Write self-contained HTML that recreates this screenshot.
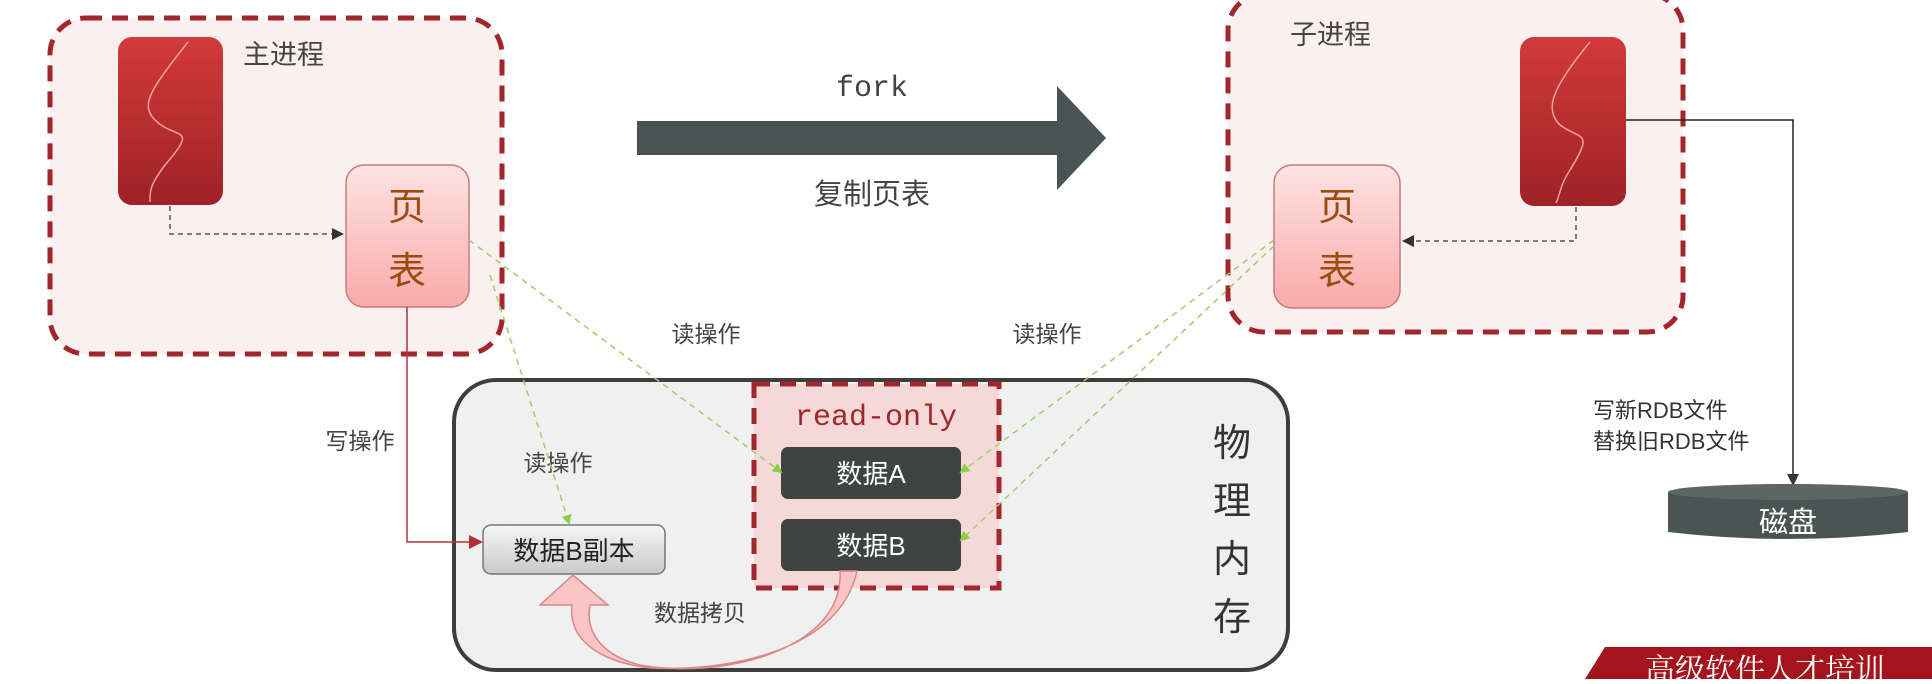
<!DOCTYPE html>
<html><head><meta charset="utf-8"><style>
html,body{margin:0;padding:0;background:#fff;}
svg text{font-family:"Liberation Sans","Noto Sans CJK SC",sans-serif;}
svg text.mono{font-family:"Liberation Mono",monospace;}
svg text.serif{font-family:"Liberation Serif","Noto Serif CJK SC",serif;}
</style></head><body>
<svg width="1932" height="679" viewBox="0 0 1932 679" xmlns="http://www.w3.org/2000/svg">
<defs>
<linearGradient id="red" x1="0" y1="0" x2="0" y2="1"><stop offset="0" stop-color="#d23a3a"/><stop offset="1" stop-color="#9e2226"/></linearGradient>
<linearGradient id="pt" x1="0" y1="0" x2="0" y2="1"><stop offset="0" stop-color="#fde3e3"/><stop offset="1" stop-color="#fbaaaa"/></linearGradient>
<linearGradient id="gr" x1="0" y1="0" x2="0" y2="1"><stop offset="0" stop-color="#f6f6f6"/><stop offset="1" stop-color="#c9c9c9"/></linearGradient>
<marker id="ag" markerWidth="10" markerHeight="10" refX="8" refY="5" orient="auto" markerUnits="userSpaceOnUse"><path d="M0,0 L10,5 L0,10z" fill="#8ccf45"/></marker>
<marker id="ak" markerWidth="12" markerHeight="12" refX="10" refY="6" orient="auto" markerUnits="userSpaceOnUse"><path d="M0,0 L12,6 L0,12z" fill="#333"/></marker>
<marker id="ar" markerWidth="14" markerHeight="14" refX="12" refY="7" orient="auto" markerUnits="userSpaceOnUse"><path d="M0,0 L14,7 L0,14z" fill="#b0333a"/></marker>
</defs>
<rect x="50" y="18" width="452" height="336" rx="36" fill="#fbf0f0" stroke="#a3262c" stroke-width="5" stroke-dasharray="16,10"/>
<rect x="118" y="37" width="105" height="168" rx="14" fill="url(#red)"/>
<path d="M188,42 C150,90 140,105 155,120 C175,140 200,125 165,165 C150,185 150,190 150,202" stroke="#f6a0a0" stroke-width="1.5" fill="none"/>
<text x="243" y="64" font-size="27" fill="#444">主进程</text>
<path d="M170,206 V234 H342" stroke="#555" stroke-width="1.5" stroke-dasharray="5,4" fill="none" marker-end="url(#ak)"/>
<rect x="346" y="165" width="123" height="142" rx="18" fill="url(#pt)" stroke="#c97a7a" stroke-width="1.5"/>
<text x="407" y="220" font-size="38" fill="#9a4d0c" text-anchor="middle">页</text>
<text x="407" y="284" font-size="38" fill="#9a4d0c" text-anchor="middle">表</text>
<text x="872" y="96" font-size="30" fill="#444" text-anchor="middle" class="mono">fork</text>
<path d="M637,121 H1057 V86 L1106,138 L1057,190 V155 H637z" fill="#4a5553"/>
<text x="872" y="204" font-size="29" fill="#444" text-anchor="middle">复制页表</text>
<rect x="1228" y="-6" width="455" height="338" rx="36" fill="#fbf0f0" stroke="#a3262c" stroke-width="5" stroke-dasharray="16,10"/>
<text x="1290" y="44" font-size="27" fill="#444">子进程</text>
<rect x="1520" y="37" width="106" height="169" rx="14" fill="url(#red)"/>
<path d="M1590,42 C1550,90 1545,110 1560,125 C1580,140 1595,130 1570,170 C1560,185 1560,195 1556,203" stroke="#f6a0a0" stroke-width="1.5" fill="none"/>
<path d="M1576,207 V241 H1404" stroke="#555" stroke-width="1.5" stroke-dasharray="5,4" fill="none" marker-end="url(#ak)"/>
<rect x="1274" y="165" width="126" height="143" rx="18" fill="url(#pt)" stroke="#c97a7a" stroke-width="1.5"/>
<text x="1337" y="220" font-size="38" fill="#9a4d0c" text-anchor="middle">页</text>
<text x="1337" y="284" font-size="38" fill="#9a4d0c" text-anchor="middle">表</text>
<path d="M1626,120 H1793 V484" stroke="#222" stroke-width="1.5" fill="none" marker-end="url(#ak)"/>
<text x="1593" y="418" font-size="22" fill="#333">写新RDB文件</text>
<text x="1593" y="449" font-size="22" fill="#333">替换旧RDB文件</text>
<path d="M1668,492 V532 Q1788,546 1908,532 V492z" fill="#4a5553"/>
<ellipse cx="1788" cy="492" rx="120" ry="8" fill="#5c6664"/>
<text x="1788" y="532" font-size="29" fill="#fff" text-anchor="middle">磁盘</text>
<rect x="454" y="380" width="834" height="290" rx="42" fill="#f0f0f0" stroke="#3d3d3d" stroke-width="4"/>
<g font-size="38" fill="#333" text-anchor="middle"><text x="1232" y="456">物</text><text x="1232" y="514">理</text><text x="1232" y="572">内</text><text x="1232" y="630">存</text></g>
<rect x="754" y="384" width="245" height="204" fill="#f5d9d9" stroke="#a3262c" stroke-width="5" stroke-dasharray="16,10"/>
<text x="876" y="425" font-size="30" fill="#a3262c" text-anchor="middle" class="mono">read-only</text>
<rect x="781" y="447" width="180" height="52" rx="7" fill="#3f4443"/>
<text x="871" y="483" font-size="26" fill="#fff" text-anchor="middle">数据A</text>
<rect x="781" y="519" width="180" height="52" rx="7" fill="#3f4443"/>
<text x="871" y="555" font-size="26" fill="#fff" text-anchor="middle">数据B</text>
<rect x="483" y="525" width="182" height="49" rx="8" fill="url(#gr)" stroke="#777" stroke-width="1.5"/>
<text x="574" y="560" font-size="26" fill="#222" text-anchor="middle">数据B副本</text>
<text x="706" y="342" font-size="23" fill="#444" text-anchor="middle">读操作</text>
<text x="1047" y="342" font-size="23" fill="#444" text-anchor="middle">读操作</text>
<text x="558" y="471" font-size="23" fill="#444" text-anchor="middle">读操作</text>
<text x="360" y="449" font-size="23" fill="#444" text-anchor="middle">写操作</text>
<path d="M407,307 V542 H481" stroke="#b0333a" stroke-width="1.5" fill="none" marker-end="url(#ar)"/>
<g stroke="#9ccf6a" stroke-width="1.5" stroke-dasharray="6,5" fill="none">
<path d="M469,240 L781,472" marker-end="url(#ag)"/>
<path d="M490,275 L569,523" marker-end="url(#ag)"/>
<path d="M1274,240 L961,472" marker-end="url(#ag)"/>
<path d="M1274,246 L961,540" marker-end="url(#ag)"/>
</g>
<path d="M840,571 C845,650 720,680 640,665 C600,655 585,630 590,605 L608,605 L573,575 L540,605 L572,605 C568,640 600,662 650,668 C730,672 840,650 857,571z" fill="#fbc5c5" stroke="#d98888" stroke-width="1.5"/>
<text x="700" y="621" font-size="23" fill="#444" text-anchor="middle">数据拷贝</text>
<path d="M1605,647 L1932,647 L1932,679 L1585,679z" fill="#a3141c"/>
<text x="1645" y="680" font-size="30" fill="#fff" class="serif">高级软件人才培训</text>
</svg>
</body></html>
